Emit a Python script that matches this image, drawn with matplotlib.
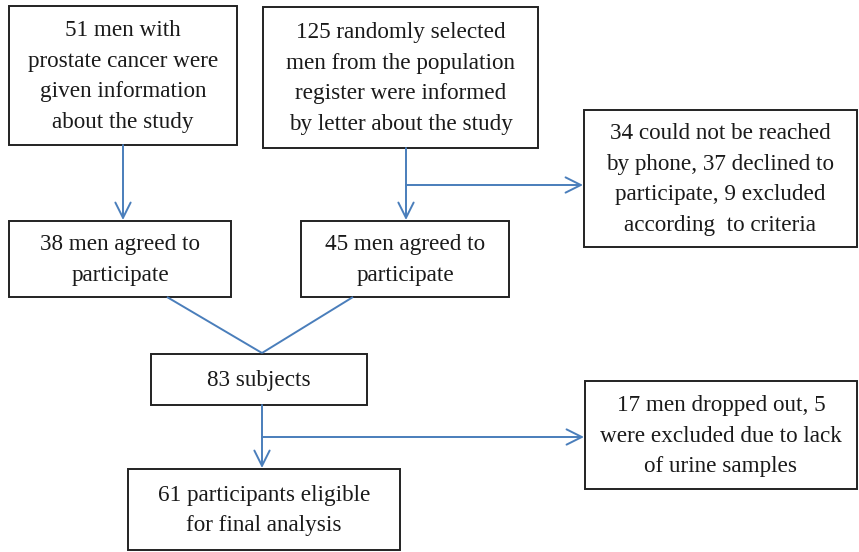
import matplotlib.pyplot as plt
from matplotlib.patches import Rectangle

# box texts
box_texts = [
    "51 men with\nprostate cancer were\ngiven information\nabout the study",
    "125 randomly selected\nmen from the population\nregister were informed\nby letter about the study",
    "38 men agreed to\nparticipate",
    "45 men agreed to\nparticipate",
    "34 could not be reached\nby phone, 37 declined to\nparticipate, 9 excluded\naccording  to criteria",
    "83 subjects",
    "17 men dropped out, 5\nwere excluded due to lack\nof urine samples",
    "61 participants eligible\nfor final analysis",
]

# layout in pixels: (x0, y0, x1, y1)
box_layout = [
    (9, 6, 237, 145),
    (263, 7, 538, 148),
    (9, 221, 231, 297),
    (301, 221, 509, 297),
    (584, 110, 857, 247),
    (151, 354, 367, 405),
    (585, 381, 857, 489),
    (128, 469, 400, 550),
]

LINE = "#4a7ebb"
W, H = 859, 552

fig = plt.figure(figsize=(W / 100, H / 100), dpi=100)
ax = fig.add_axes([0, 0, 1, 1])
ax.set_xlim(0, W)
ax.set_ylim(H, 0)
ax.axis("off")

for txt, (x0, y0, x1, y1) in zip(box_texts, box_layout):
    ax.add_patch(Rectangle((x0, y0), x1 - x0, y1 - y0, fill=False,
                           edgecolor="#222222", linewidth=1.4))
    ax.text((x0 + x1) / 2, (y0 + y1) / 2 + 1, txt, ha="center", va="center",
            fontsize=16.7, family="Liberation Serif", color="#1a1a1a",
            linespacing=1.6)


def arrow(p0, p1):
    ax.annotate("", xy=p1, xytext=p0,
                arrowprops=dict(arrowstyle="->,head_length=1.1,head_width=0.55",
                                color=LINE, lw=1.4, shrinkA=0, shrinkB=0))


def line(xs, ys):
    ax.plot(xs, ys, color=LINE, linewidth=1.4, solid_capstyle="butt")


# top-left vertical arrow
arrow((123, 145), (123, 220))
# top-middle vertical arrow and side branch
arrow((406, 148), (406, 220))
arrow((406, 185), (583, 185))
# diagonals into 83 subjects
line([167, 262], [297, 353])
line([353, 262], [297, 353])
# lower vertical arrow and side branch
arrow((262, 405), (262, 468))
arrow((262, 437), (584, 437))

fig.savefig("out.png", dpi=100)
